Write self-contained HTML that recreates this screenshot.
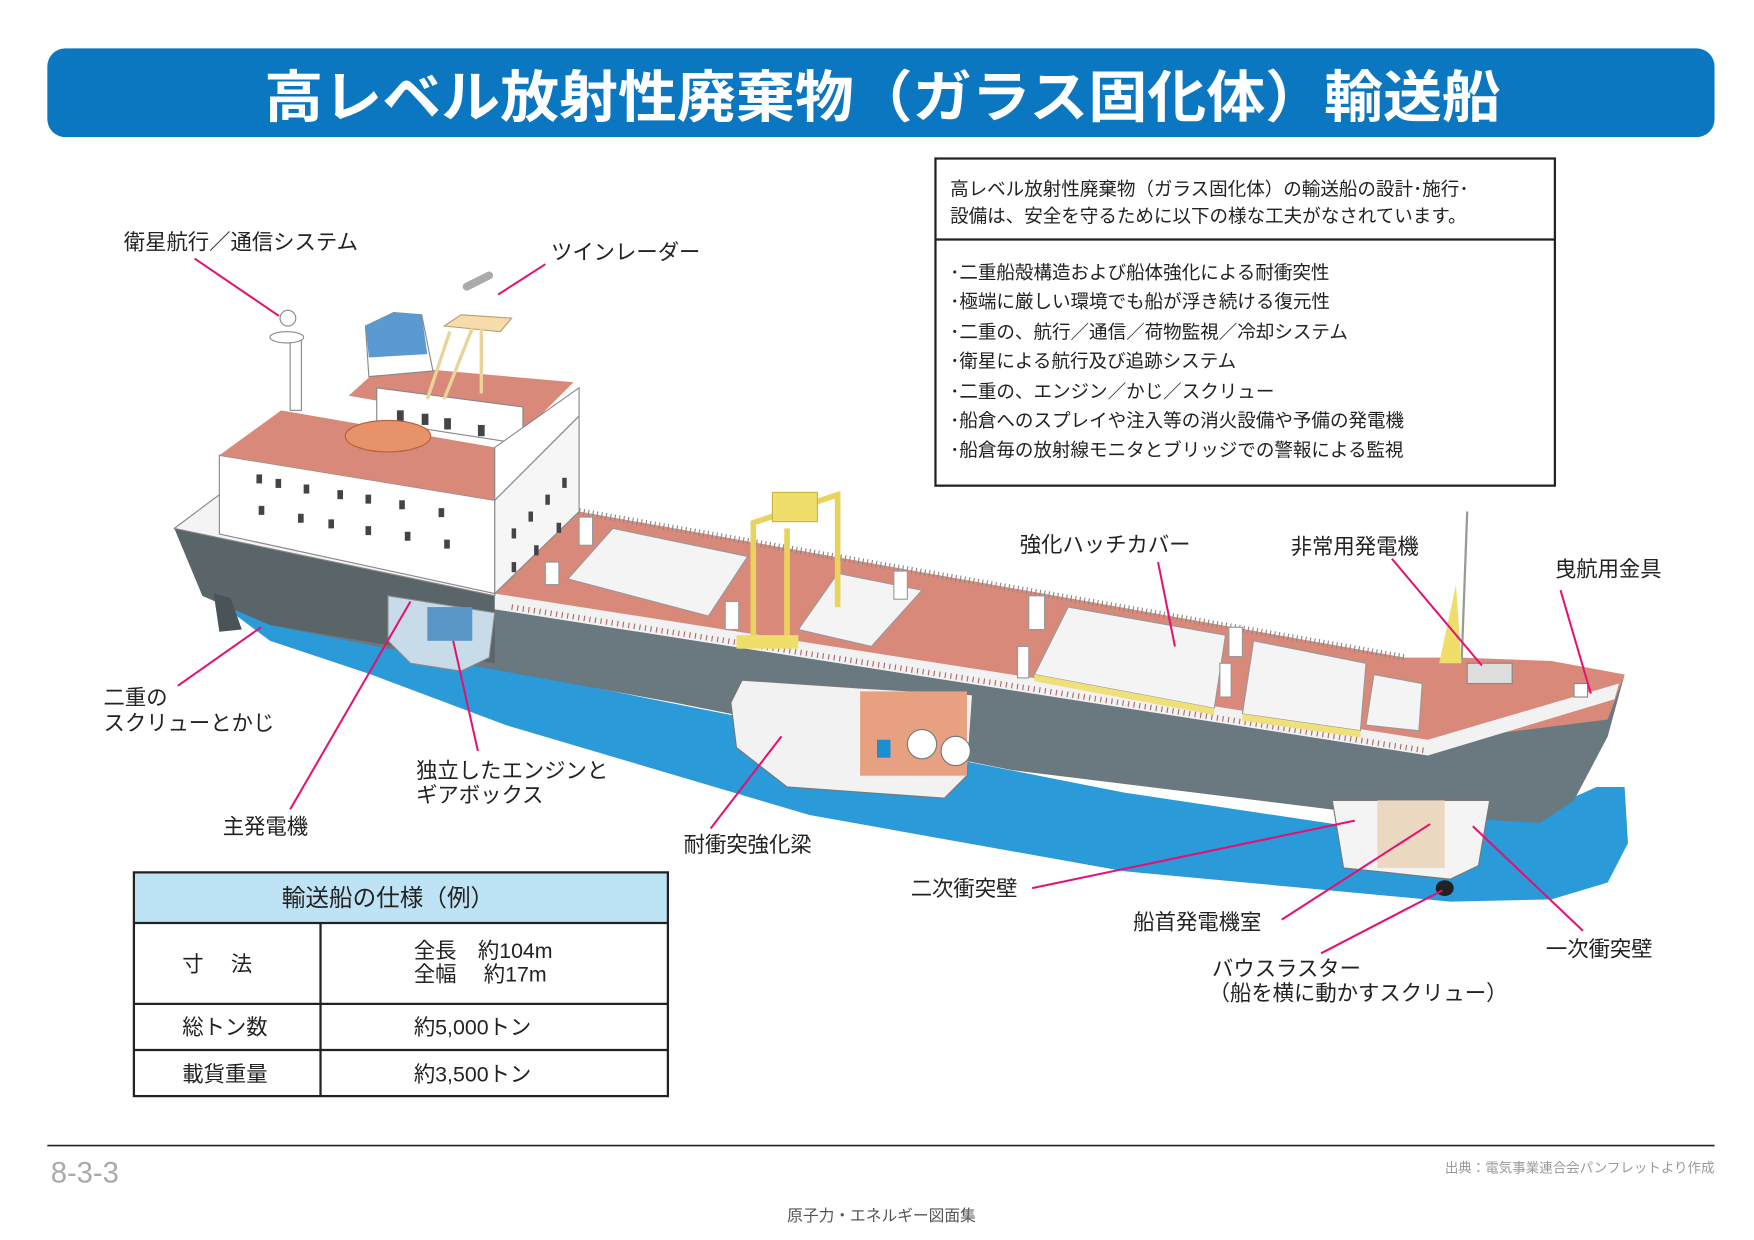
<!DOCTYPE html>
<html><head><meta charset="utf-8"><style>
html,body{margin:0;padding:0;background:#fff;}
svg{display:block;}
text{font-family:"Liberation Sans","Noto Sans CJK JP",sans-serif;}
</style></head><body>
<svg width="1754" height="1240" viewBox="0 0 1560 1103" xmlns="http://www.w3.org/2000/svg">
<rect width="1560" height="1103" fill="#fff"/>
<!-- title -->
<rect x="42" y="43" width="1483" height="79" rx="16" fill="#0b77c1"/>
<text x="785" y="104" text-anchor="middle" font-size="50" font-weight="bold" fill="#fff" textLength="1100" lengthAdjust="spacingAndGlyphs">高レベル放射性廃棄物（ガラス固化体）輸送船</text>

<!-- info box -->
<rect x="832" y="141" width="551" height="291" fill="#fff" stroke="#222" stroke-width="2"/>
<line x1="832" y1="213" x2="1383" y2="213" stroke="#222" stroke-width="2"/>
<g font-size="16.5" fill="#222">
<text x="845" y="174">高レベル放射性廃棄物（ガラス固化体）の輸送船の設計･施行･</text>
<text x="845" y="198">設備は、安全を守るために以下の様な工夫がなされています。</text>
<text x="845" y="248">･二重船殻構造および船体強化による耐衝突性</text>
<text x="845" y="274">･極端に厳しい環境でも船が浮き続ける復元性</text>
<text x="845" y="301">･二重の、航行／通信／荷物監視／冷却システム</text>
<text x="845" y="327">･衛星による航行及び追跡システム</text>
<text x="845" y="354">･二重の、エンジン／かじ／スクリュー</text>
<text x="845" y="380">･船倉へのスプレイや注入等の消火設備や予備の発電機</text>
<text x="845" y="406">･船倉毎の放射線モニタとブリッジでの警報による監視</text>
</g>

<!-- water -->
<path d="M200,540 L420,590 L720,650 L1000,705 L1200,735 L1380,718 L1420,700 L1445,700 L1448,750 L1430,785 L1380,800 L1290,802 L1000,775 L720,725 L450,645 L330,600 L240,570 Z" fill="#2a9ad8"/>
<!-- hull -->
<path d="M155,470 L440,528 L1270,658 L1445,600 L1430,655 L1400,712 L1370,732 L1200,722 L900,685 L600,625 L420,592 L240,556 L180,530 Z" fill="#6a787f"/>
<path d="M155,470 L440,528 L440,590 L240,556 L180,530 Z" fill="#5a6569"/>
<!-- rudder -->
<path d="M190,528 L205,532 L215,560 L195,562 Z" fill="#4a5357"/>
<!-- deck -->
<path d="M440,495 L515,455 L1250,585 L1300,585 L1380,588 L1445,600 L1430,640 L1270,660 L440,530 Z" fill="#d8897a"/>
<path d="M440,528 L1270,658 L1440,608 L1436,622 L1270,672 L440,542 Z" fill="#f2f2f2"/>
<!-- railing -->
<path d="M515,455 L1250,585" stroke="#888" stroke-width="6" stroke-dasharray="1 3" fill="none"/>
<path d="M455,540 L1270,668" stroke="#a66" stroke-width="5" stroke-dasharray="1 4" fill="none"/>
<!-- hatch covers -->
<g fill="#f4f4f4" stroke="#999" stroke-width="1">
<path d="M505,515 L545,470 L665,495 L630,548 Z"/>
<path d="M710,560 L745,510 L820,525 L775,575 Z"/>
<path d="M920,600 L950,540 L1090,565 L1080,630 Z"/>
<path d="M1105,635 L1115,570 L1215,590 L1210,650 Z"/>
<path d="M1215,645 L1222,600 L1265,608 L1262,650 Z"/>
</g>
<g fill="#f0e07a"><path d="M920,600 L1080,630 L1080,636 L920,606 Z"/><path d="M1105,635 L1210,650 L1210,656 L1105,641 Z"/></g>
<g fill="#fff" stroke="#999"><rect x="485" y="500" width="12" height="20"/><rect x="515" y="460" width="12" height="25"/><rect x="645" y="535" width="12" height="25"/><rect x="795" y="508" width="12" height="25"/><rect x="905" y="575" width="10" height="28"/><rect x="915" y="530" width="14" height="30"/><rect x="1085" y="590" width="10" height="30"/><rect x="1093" y="558" width="12" height="26"/></g>
<!-- gantry crane -->
<g fill="none" stroke="#e8d45c" stroke-width="5">
<path d="M670,570 L670,465 L745,440 L745,540"/>
<path d="M700,570 L700,470"/>
</g>
<rect x="687" y="438" width="40" height="26" fill="#f0de6a" stroke="#c8b440"/>
<rect x="655" y="565" width="55" height="12" fill="#f0de6a"/>
<!-- superstructure -->
<path d="M155,470 L195,440 L440,470 L440,530 Z" fill="#f4f4f4" stroke="#888" stroke-width="1"/>
<path d="M195,405 L440,445 L440,528 L195,475 Z" fill="#fff" stroke="#888" stroke-width="1"/>
<path d="M440,445 L515,370 L515,455 L440,528 Z" fill="#f6f6f6" stroke="#888" stroke-width="1"/>
<path d="M195,405 L250,365 L440,398 L440,445 Z" fill="#d8897a"/>
<path d="M310,352 L340,325 L510,340 L470,380 Z" fill="#d8897a"/>
<path d="M335,345 L465,362 L465,395 L335,375 Z" fill="#fff" stroke="#888"/>
<path d="M440,398 L515,345 L515,370 L440,445 Z" fill="#fff" stroke="#888"/>
<g fill="#444">
<rect x="228" y="422" width="5" height="8"/><rect x="245" y="426" width="5" height="8"/><rect x="270" y="431" width="5" height="8"/><rect x="300" y="436" width="5" height="8"/><rect x="325" y="440" width="5" height="8"/><rect x="355" y="445" width="5" height="8"/><rect x="390" y="452" width="5" height="8"/>
<rect x="230" y="450" width="5" height="8"/><rect x="265" y="457" width="5" height="8"/><rect x="292" y="462" width="5" height="8"/><rect x="325" y="468" width="5" height="8"/><rect x="360" y="473" width="5" height="8"/><rect x="395" y="480" width="5" height="8"/>
<rect x="353" y="365" width="6" height="10"/><rect x="375" y="368" width="6" height="10"/><rect x="395" y="372" width="6" height="10"/><rect x="425" y="378" width="6" height="10"/>
<rect x="455" y="470" width="4" height="9"/><rect x="470" y="455" width="4" height="9"/><rect x="485" y="440" width="4" height="9"/><rect x="500" y="425" width="4" height="9"/><rect x="455" y="500" width="4" height="9"/><rect x="475" y="485" width="4" height="9"/><rect x="495" y="465" width="4" height="9"/>
</g>
<!-- funnel -->
<path d="M325,290 L350,278 L375,280 L385,330 L328,335 Z" fill="#fff" stroke="#888"/>
<path d="M325,290 L350,278 L375,280 L380,315 L328,318 Z" fill="#5a9ad0"/>
<!-- lifeboat -->
<ellipse cx="345" cy="388" rx="38" ry="14" fill="#e8926a" stroke="#b26040"/>
<!-- mast -->
<rect x="258" y="300" width="10" height="65" fill="#fff" stroke="#888"/>
<ellipse cx="255" cy="300" rx="15" ry="5" fill="#fff" stroke="#888"/>
<circle cx="256" cy="283" r="7" fill="#fff" stroke="#888"/>
<path d="M395,290 L410,280 L455,283 L445,295 Z" fill="#f6dcaa" stroke="#b8a070"/>
<path d="M400,295 L380,355 M420,292 L395,355 M428,292 L428,350" stroke="#e8d49a" stroke-width="3"/>
<path d="M415,255 L435,245" stroke="#aaa" stroke-width="7" stroke-linecap="round"/>
<!-- cutaways -->
<path d="M345,530 L440,545 L435,585 L410,597 L365,590 L345,570 Z" fill="#c7dbe8" stroke="#888"/>
<rect x="380" y="540" width="40" height="30" fill="#5b96c8"/>
<path d="M650,625 L660,605 L765,612 L865,618 L860,690 L840,710 L700,700 L655,665 Z" fill="#f2f2f2" stroke="#777"/>
<rect x="765" y="615" width="95" height="75" fill="#e7a080"/>
<circle cx="820" cy="662" r="13" fill="#fff" stroke="#777"/><circle cx="850" cy="668" r="13" fill="#fff" stroke="#777"/>
<rect x="780" y="658" width="12" height="16" fill="#1d8fd0"/>
<path d="M1185,712 L1325,712 L1315,770 L1290,782 L1195,772 Z" fill="#f4f4f4" stroke="#777"/>
<rect x="1225" y="712" width="60" height="60" fill="#ead8c0"/>
<ellipse cx="1285" cy="790" rx="8" ry="7" fill="#222"/>
<!-- bow details -->
<path d="M1305,455 L1300,590" stroke="#999" stroke-width="2"/>
<path d="M1280,590 L1295,520 L1300,590 Z" fill="#f0de6a"/>
<rect x="1305" y="590" width="40" height="18" fill="#ddd" stroke="#888"/>
<rect x="1400" y="608" width="12" height="12" fill="#fff" stroke="#888"/>

<!-- leader lines -->
<g stroke="#e5106f" stroke-width="1.8" fill="none">
<line x1="173" y1="230" x2="248" y2="281"/>
<line x1="485" y1="235" x2="443" y2="262"/>
<line x1="158" y1="610" x2="232" y2="558"/>
<line x1="258" y1="720" x2="365" y2="535"/>
<line x1="425" y1="668" x2="403" y2="570"/>
<line x1="632" y1="737" x2="695" y2="655"/>
<line x1="1030" y1="500" x2="1045" y2="575"/>
<line x1="1238" y1="497" x2="1318" y2="592"/>
<line x1="1388" y1="525" x2="1415" y2="617"/>
<line x1="918" y1="790" x2="1205" y2="730"/>
<line x1="1140" y1="818" x2="1272" y2="733"/>
<line x1="1175" y1="848" x2="1283" y2="792"/>
<line x1="1408" y1="828" x2="1310" y2="735"/>
</g>
<!-- labels -->
<g font-size="19" fill="#222">
<text x="110" y="222">衛星航行／通信システム</text>
<text x="490" y="231">ツインレーダー</text>
<text x="92" y="627">二重の</text>
<text x="92" y="650">スクリューとかじ</text>
<text x="370" y="692">独立したエンジンと</text>
<text x="370" y="714">ギアボックス</text>
<text x="198" y="742">主発電機</text>
<text x="608" y="758">耐衝突強化梁</text>
<text x="907" y="491">強化ハッチカバー</text>
<text x="1148" y="493">非常用発電機</text>
<text x="1383" y="513">曳航用金具</text>
<text x="810" y="797">二次衝突壁</text>
<text x="1008" y="827">船首発電機室</text>
<text x="1078" y="868">バウスラスター</text>
<text x="1075" y="890">（船を横に動かすスクリュー）</text>
<text x="1375" y="851">一次衝突壁</text>
</g>

<!-- spec table -->
<rect x="119" y="776" width="475" height="45" fill="#bde3f5"/>
<rect x="119" y="776" width="475" height="199" fill="none" stroke="#222" stroke-width="2"/>
<g stroke="#222" stroke-width="2">
<line x1="119" y1="821" x2="594" y2="821"/><line x1="119" y1="893" x2="594" y2="893"/><line x1="119" y1="934" x2="594" y2="934"/>
<line x1="285" y1="821" x2="285" y2="975"/>
</g>
<g font-size="19" fill="#222">
<text x="345" y="806" text-anchor="middle" font-size="21">輸送船の仕様（例）</text>
<text x="162" y="864">寸　  法</text>
<text x="368" y="852">全長　約104m</text>
<text x="368" y="873">全幅　  約17m</text>
<text x="162" y="920">総トン数</text>
<text x="368" y="920">約5,000トン</text>
<text x="162" y="962">載貨重量</text>
<text x="368" y="962">約3,500トン</text>
</g>

<!-- footer -->
<line x1="42" y1="1019" x2="1525" y2="1019" stroke="#222" stroke-width="1.5"/>
<text x="45" y="1052" font-size="26" fill="#aaa">8-3-3</text>
<text x="1525" y="1043" font-size="12" fill="#999" text-anchor="end">出典：電気事業連合会パンフレットより作成</text>
<text x="784" y="1086" font-size="14" fill="#555" text-anchor="middle">原子力・エネルギー図面集</text>
</svg>
</body></html>
